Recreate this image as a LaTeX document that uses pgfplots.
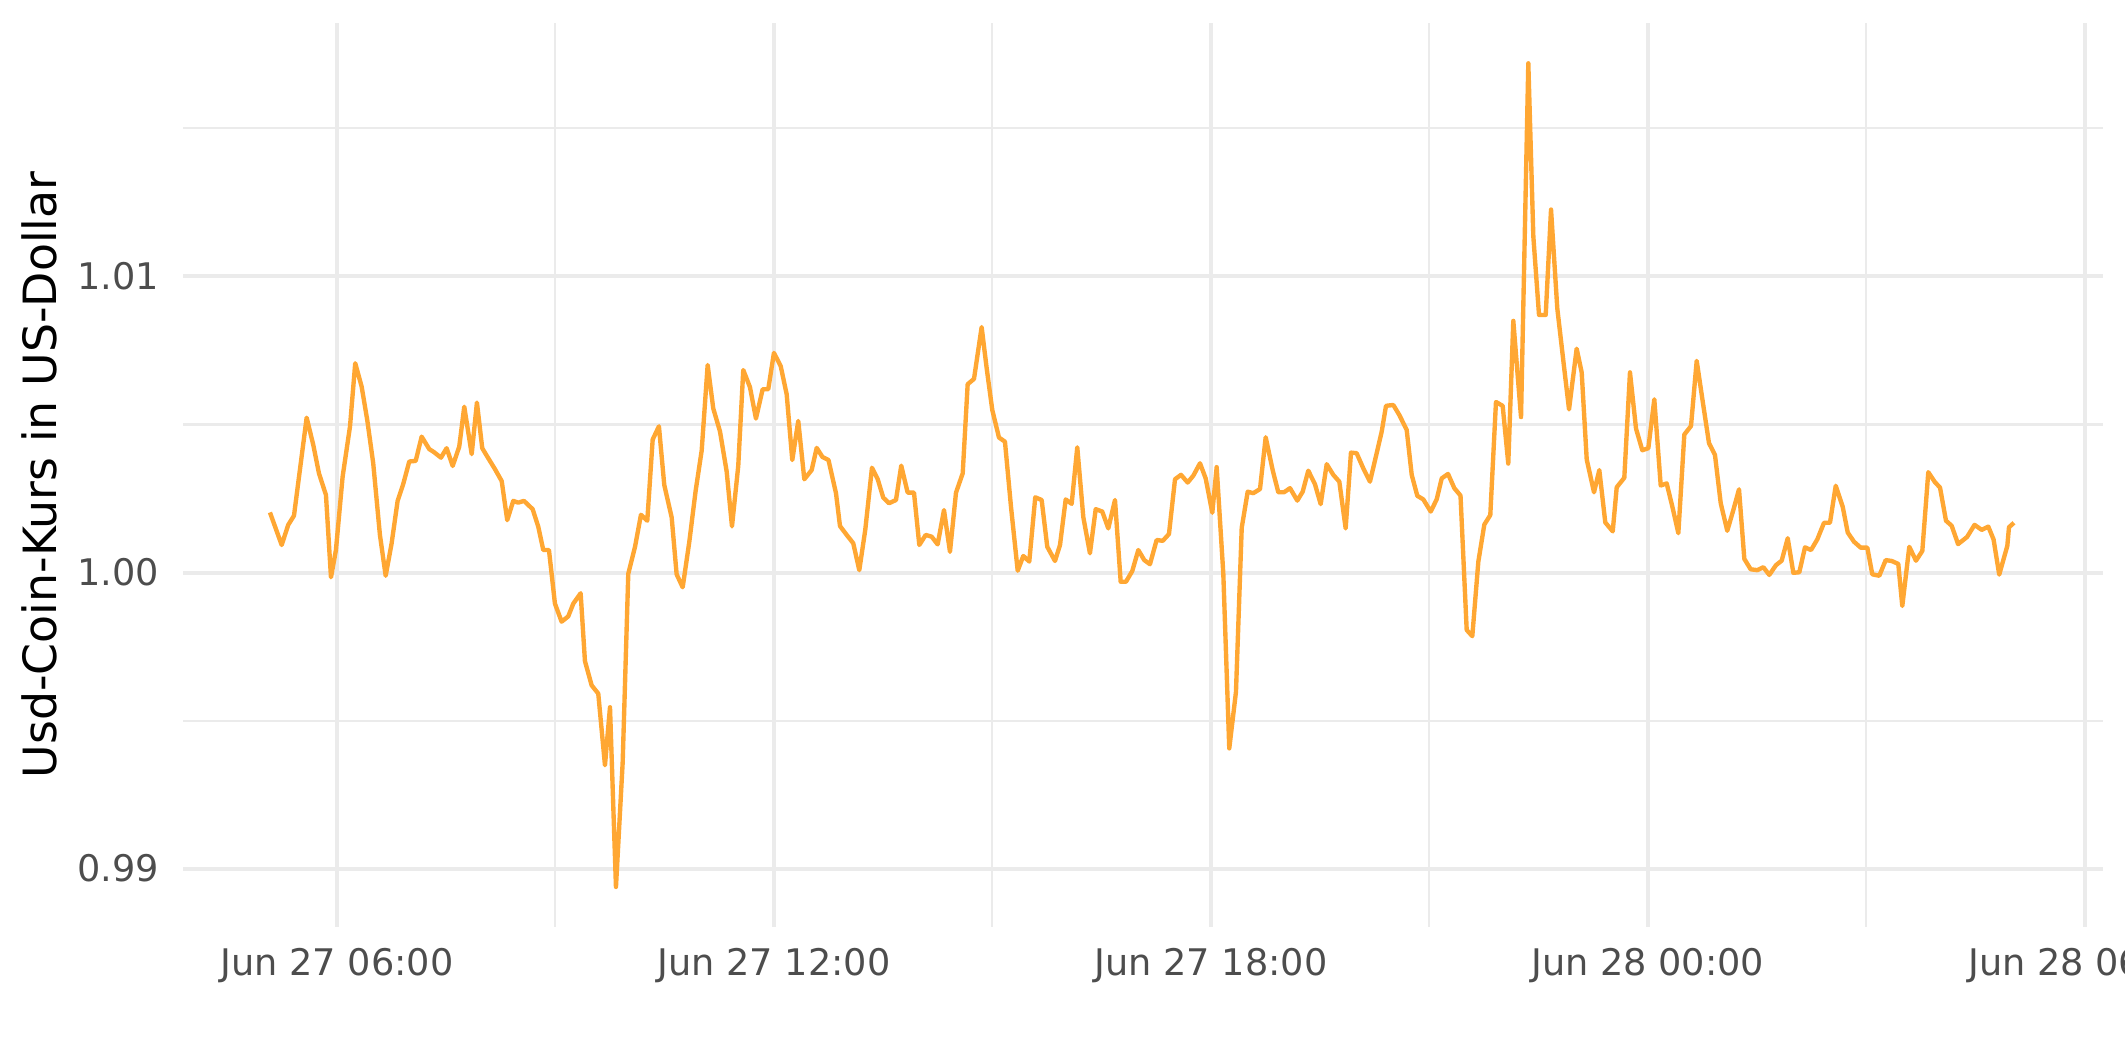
\documentclass[border=0pt]{standalone}
\usepackage{pgfplots}
\pgfplotsset{compat=1.18}
\usepackage{pgfplotstable}
\usepackage{fontspec}
\setmainfont{DejaVu Sans}
\definecolor{gridc}{HTML}{EBEBEB}
\definecolor{tickc}{HTML}{4D4D4D}
\definecolor{linec}{HTML}{FFA733}
% x: hours since Jun 27 00:00, y: price in USD
\pgfplotstableread{
t v
5.080 1.00203
5.241 1.00093
5.331 1.00161
5.410 1.00192
5.584 1.00523
5.675 1.00431
5.753 1.00335
5.849 1.00262
5.918 0.99984
5.986 1.00076
6.078 1.00324
6.179 1.00493
6.251 1.00707
6.339 1.00628
6.416 1.00515
6.498 1.00369
6.590 1.00127
6.669 0.99989
6.751 1.00099
6.833 1.00242
6.910 1.00299
6.993 1.00375
7.081 1.00377
7.163 1.00459
7.267 1.00417
7.336 1.00406
7.428 1.00388
7.506 1.00420
7.589 1.00360
7.679 1.00425
7.748 1.00560
7.850 1.00400
7.922 1.00574
7.995 1.00420
8.078 1.00386
8.170 1.00349
8.262 1.00309
8.338 1.00177
8.421 1.00242
8.489 1.00236
8.568 1.00242
8.687 1.00214
8.764 1.00155
8.833 1.00076
8.911 1.00076
8.993 0.99895
9.085 0.99834
9.176 0.99852
9.245 0.99895
9.346 0.99930
9.405 0.99701
9.497 0.99619
9.588 0.99591
9.680 0.99349
9.749 0.99545
9.831 0.98938
9.923 0.99358
10.000 0.99996
10.092 1.00086
10.174 1.00195
10.261 1.00175
10.335 1.00449
10.421 1.00494
10.494 1.00296
10.596 1.00186
10.664 0.99994
10.747 0.99950
10.837 1.00102
10.925 1.00276
11.008 1.00412
11.090 1.00701
11.167 1.00554
11.259 1.00477
11.351 1.00341
11.424 1.00156
11.510 1.00360
11.579 1.00684
11.671 1.00626
11.753 1.00520
11.845 1.00619
11.922 1.00619
12.000 1.00742
12.093 1.00697
12.175 1.00602
12.252 1.00380
12.334 1.00512
12.417 1.00315
12.518 1.00346
12.587 1.00421
12.667 1.00390
12.749 1.00380
12.852 1.00268
12.907 1.00157
12.999 1.00127
13.089 1.00099
13.172 1.00008
13.254 1.00144
13.346 1.00354
13.424 1.00316
13.501 1.00253
13.580 1.00234
13.676 1.00245
13.748 1.00361
13.836 1.00270
13.923 1.00270
13.996 1.00093
14.084 1.00127
14.166 1.00121
14.248 1.00095
14.335 1.00211
14.417 1.00070
14.500 1.00270
14.592 1.00335
14.660 1.00636
14.747 1.00654
14.852 1.00829
14.921 1.00690
14.998 1.00549
15.090 1.00456
15.172 1.00442
15.255 1.00222
15.347 1.00006
15.424 1.00056
15.506 1.00037
15.588 1.00254
15.676 1.00245
15.753 1.00087
15.859 1.00039
15.928 1.00093
16.006 1.00247
16.088 1.00232
16.165 1.00423
16.248 1.00187
16.339 1.00065
16.418 1.00214
16.508 1.00206
16.591 1.00149
16.683 1.00245
16.761 0.99969
16.834 0.99969
16.920 1.00005
17.003 1.00076
17.085 1.00042
17.163 1.00028
17.255 1.00110
17.338 1.00107
17.424 1.00130
17.507 1.00315
17.589 1.00330
17.681 1.00304
17.758 1.00327
17.850 1.00369
17.928 1.00318
18.019 1.00202
18.079 1.00356
18.170 0.99997
18.252 0.99406
18.344 0.99597
18.423 1.00151
18.505 1.00273
18.582 1.00268
18.674 1.00282
18.752 1.00457
18.848 1.00346
18.925 1.00271
19.003 1.00271
19.086 1.00285
19.186 1.00243
19.260 1.00273
19.337 1.00344
19.429 1.00298
19.507 1.00231
19.590 1.00366
19.680 1.00330
19.763 1.00307
19.850 1.00149
19.923 1.00405
20.001 1.00403
20.092 1.00352
20.184 1.00307
20.276 1.00403
20.345 1.00476
20.404 1.00563
20.504 1.00566
20.587 1.00532
20.688 1.00482
20.757 1.00330
20.834 1.00259
20.916 1.00247
21.018 1.00206
21.100 1.00247
21.169 1.00318
21.256 1.00333
21.342 1.00285
21.427 1.00260
21.512 0.99806
21.589 0.99785
21.672 1.00037
21.754 1.00162
21.836 1.00194
21.914 1.00576
22.006 1.00563
22.083 1.00368
22.152 1.00850
22.258 1.00525
22.358 1.01720
22.427 1.01135
22.505 1.00870
22.597 1.00870
22.670 1.01226
22.756 1.00892
22.839 1.00715
22.917 1.00551
23.022 1.00756
23.091 1.00676
23.160 1.00382
23.260 1.00271
23.333 1.00346
23.415 1.00169
23.517 1.00139
23.572 1.00288
23.676 1.00320
23.754 1.00676
23.837 1.00486
23.923 1.00413
24.006 1.00420
24.088 1.00585
24.176 1.00294
24.258 1.00301
24.341 1.00217
24.418 1.00133
24.500 1.00466
24.592 1.00495
24.670 1.00715
24.752 1.00579
24.839 1.00437
24.921 1.00397
25.000 1.00234
25.090 1.00141
25.173 1.00211
25.251 1.00281
25.324 1.00046
25.411 1.00011
25.502 1.00008
25.585 1.00018
25.667 0.99992
25.759 1.00025
25.837 1.00040
25.920 1.00116
25.997 0.99999
26.079 1.00001
26.157 1.00085
26.240 1.00076
26.326 1.00112
26.418 1.00168
26.500 1.00168
26.579 1.00293
26.675 1.00222
26.744 1.00135
26.830 1.00104
26.922 1.00084
27.013 1.00084
27.081 0.99994
27.177 0.99989
27.265 1.00042
27.348 1.00039
27.438 1.00029
27.493 0.99887
27.589 1.00087
27.681 1.00040
27.768 1.00073
27.850 1.00339
27.942 1.00305
28.011 1.00287
28.093 1.00175
28.171 1.00158
28.259 1.00096
28.382 1.00120
28.485 1.00161
28.584 1.00144
28.674 1.00155
28.746 1.00112
28.824 0.99993
28.935 1.00090
28.958 1.00153
29.026 1.00168
}\usdc
\begin{document}
\begin{tikzpicture}
\clip (-43.9pt,-32.4pt) rectangle (466.1pt,222.5pt);
\begin{axis}[
  width=460.8pt, height=217pt, scale only axis,
  xmin=3.885, xmax=30.248,
  ymin=0.988024, ymax=1.018564,
  axis line style={draw=none},
  major tick length=0pt, minor tick length=0pt,
  xtick={6,12,18,24,30},
  xticklabels={Jun 27 06:00,Jun 27 12:00,Jun 27 18:00,Jun 28 00:00,Jun 28 06:00},
  minor xtick={9,15,21,27},
  ytick={0.99,1.00,1.01},
  yticklabels={0.99,1.00,1.01},
  minor ytick={0.995,1.005,1.015},
  grid=both,
  major grid style={draw=gridc, line width=0.95pt},
  minor grid style={draw=gridc, line width=0.5pt},
  tick label style={font=\fontsize{8.8}{10}\selectfont, text=tickc, inner sep=0pt},
  xticklabel style={anchor=north, yshift=-4.8pt},
  yticklabel style={anchor=east, xshift=-5.5pt},
  every axis y label/.style={at={(axis description cs:-0.0651,0.5)}, anchor=south, rotate=90, inner sep=0pt, font=\fontsize{11}{13}\selectfont},
  ylabel={Usd-Coin-Kurs in US-Dollar},
  clip=false,
]
\addplot[color=linec, line width=1.05pt, line join=round] table[x=t, y=v] {\usdc};
\end{axis}
\end{tikzpicture}
\end{document}
